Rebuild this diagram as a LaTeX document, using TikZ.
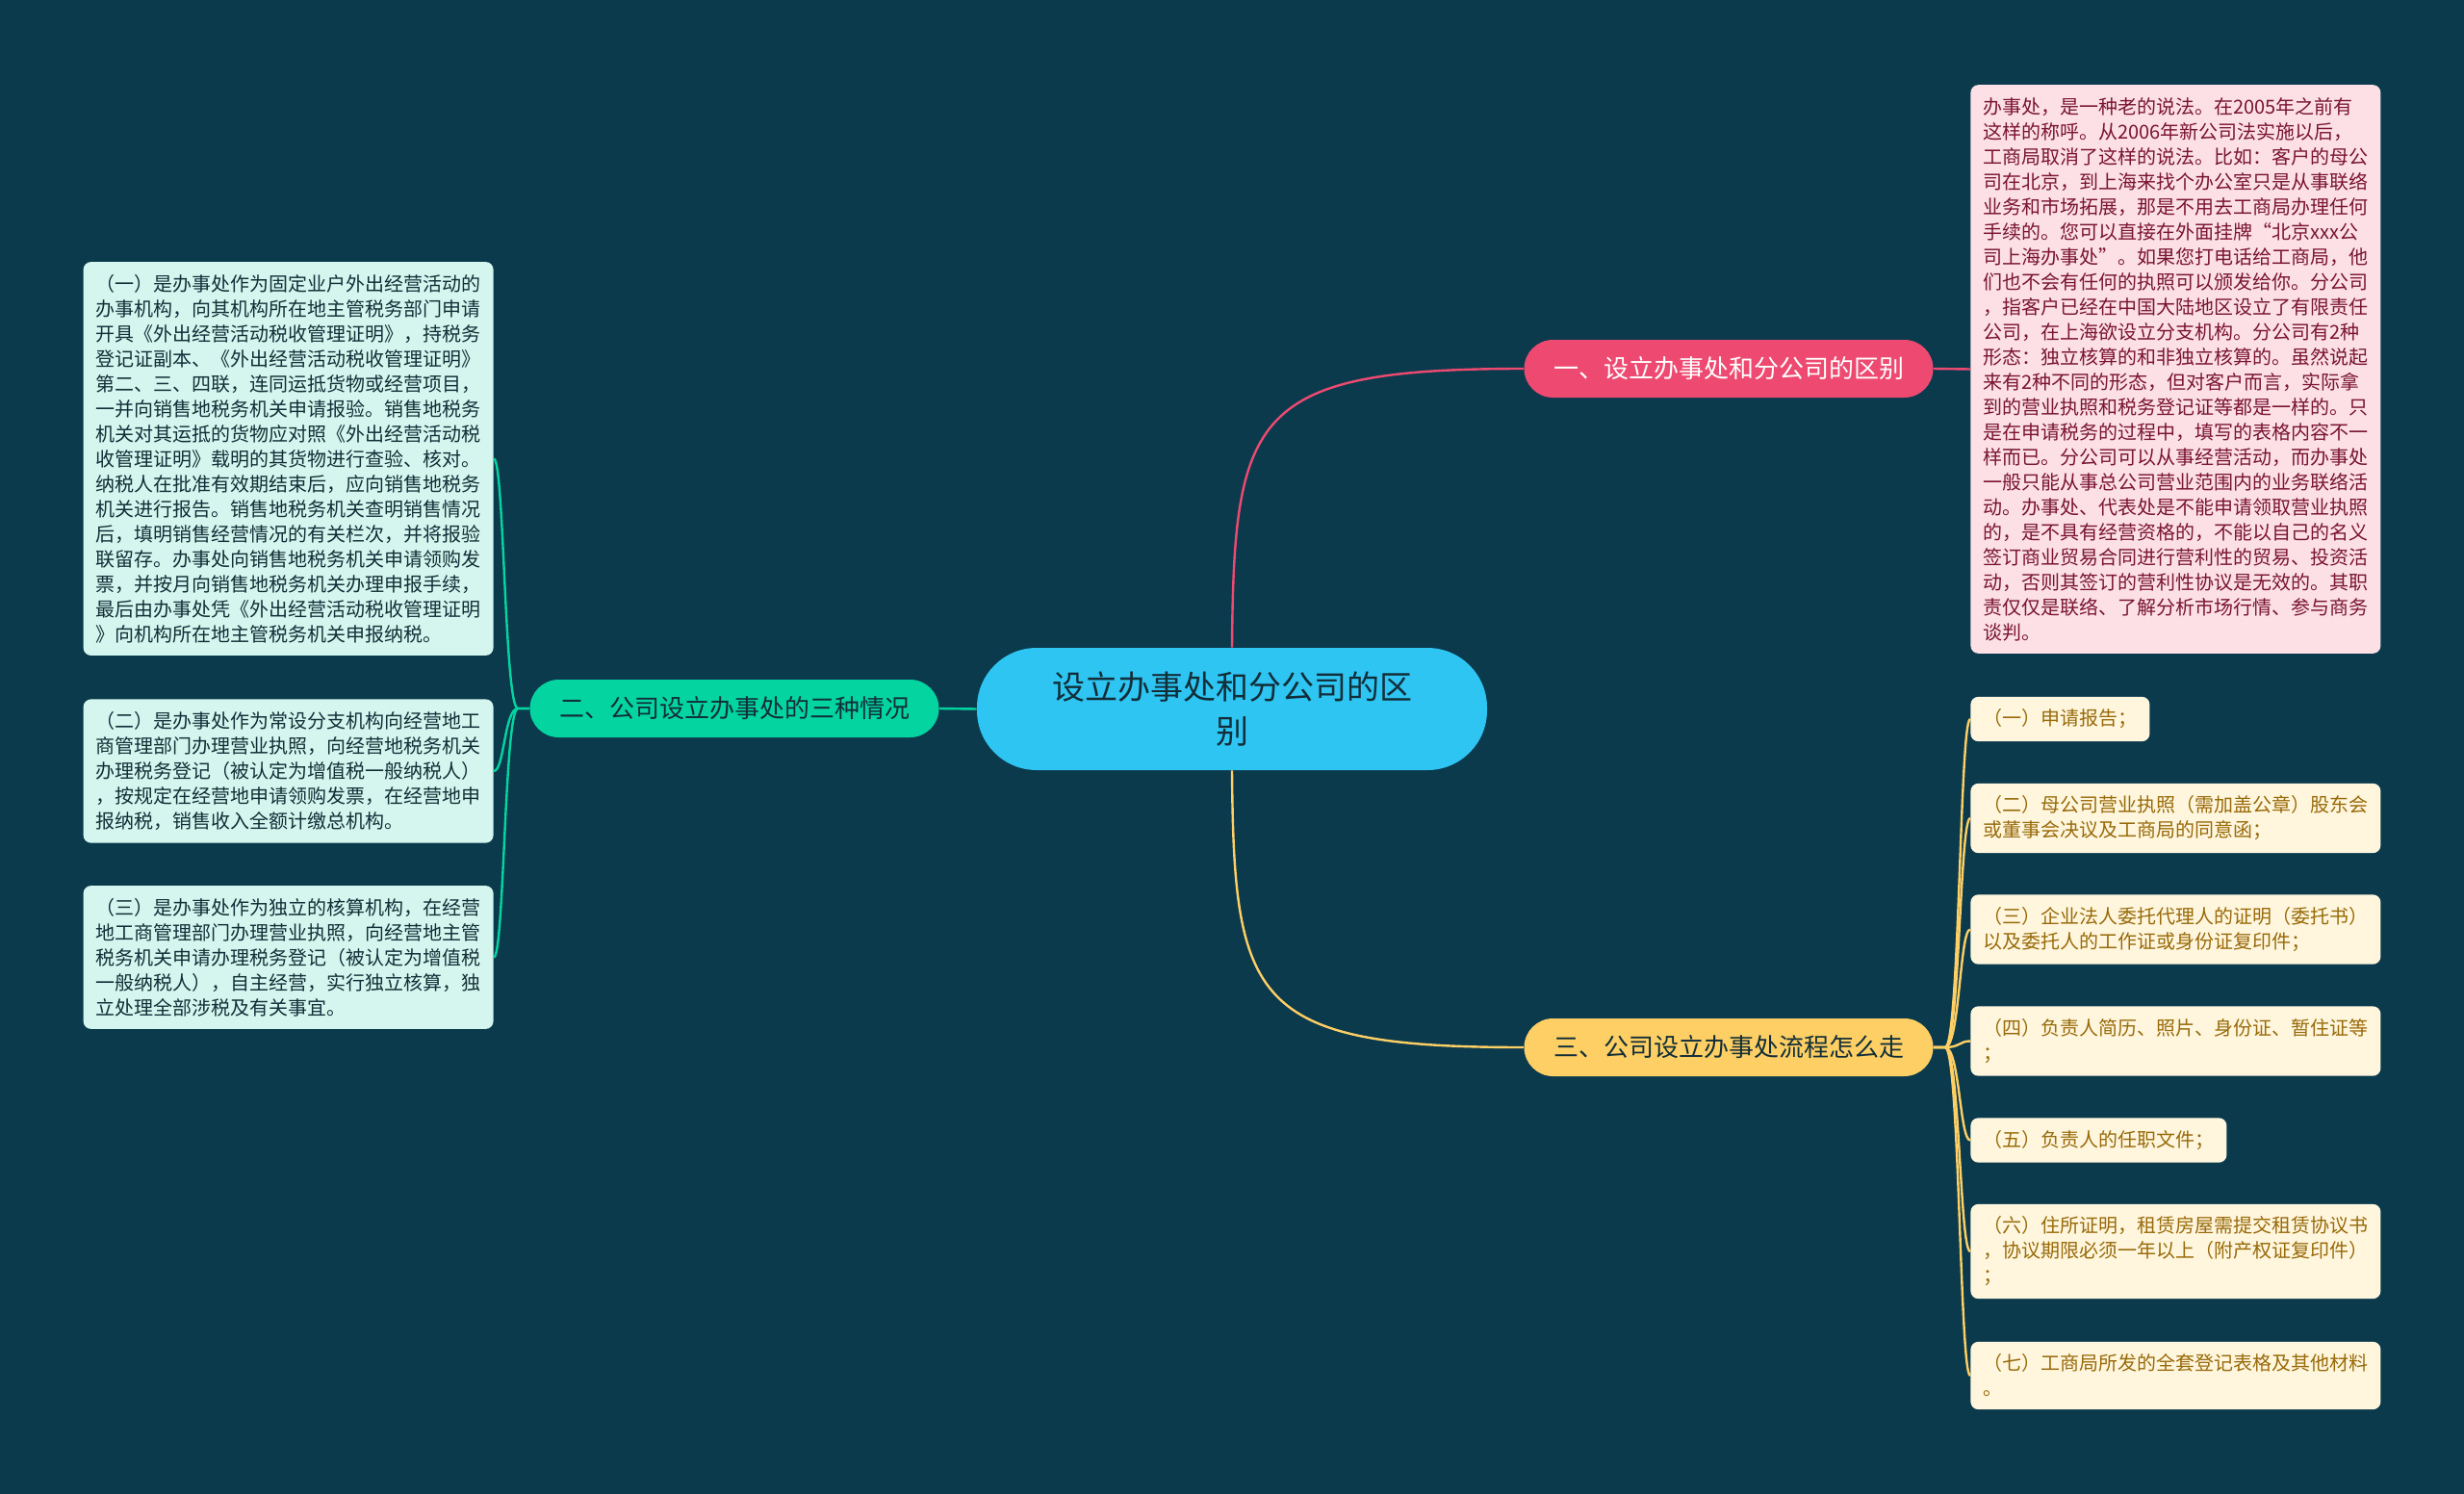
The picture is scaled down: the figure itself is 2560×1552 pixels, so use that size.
\documentclass[tikz,border=0pt]{standalone}
\usepackage{fontspec}
\setmainfont{Noto Sans CJK SC}
\usetikzlibrary{positioning}
\definecolor{bgblue}{RGB}{11,58,77}
\definecolor{rootcyan}{RGB}{46,197,243}
\definecolor{pinkred}{RGB}{238,74,113}
\definecolor{mintgreen}{RGB}{4,212,160}
\definecolor{sunyellow}{RGB}{253,207,100}
\definecolor{mintpale}{RGB}{213,246,238}
\definecolor{pinkpale}{RGB}{252,224,230}
\definecolor{yellowpale}{RGB}{255,246,221}
\definecolor{darktext}{RGB}{18,46,56}
\definecolor{maroontext}{RGB}{122,20,52}
\definecolor{goldtext}{RGB}{152,106,10}

\begin{document}
\begin{tikzpicture}[x=0.5pt,y=-0.5pt,
  rootnode/.style={fill=rootcyan,text=darktext,rounded corners=31pt,minimum width=265pt,minimum height=63.5pt,align=center,font=\fontsize{17}{23}\selectfont},
  branchnode/.style={rounded corners=15pt,minimum width=212.5pt,minimum height=30pt,inner sep=0pt,font=\fontsize{13}{15}\selectfont},
  leafbox/.style={rounded corners=4pt,align=left,inner xsep=6.5pt,inner ysep=6.5pt,font=\fontsize{10}{13}\selectfont},
  link/.style={line width=1.2pt}]
\useasboundingbox (0,0) rectangle (2560,1552);
\fill[bgblue] (0,0) rectangle (2560,1552);

% centre and main branches
\node[rootnode] (root) at (1280,736.5) {设立办事处和分公司的区\\别};
\node[branchnode,fill=pinkred,text=white] (diff) at (1796,383) {一、设立办事处和分公司的区别};
\node[branchnode,fill=mintgreen,text=darktext] (cases) at (763,736) {二、公司设立办事处的三种情况};
\node[branchnode,fill=sunyellow,text=darktext] (steps) at (1796,1088) {三、公司设立办事处流程怎么走};

\draw[link,pinkred] (root.north) .. controls (1282,430) and (1300,383) .. (diff.west);
\draw[link,sunyellow] (root.south) .. controls (1282,1041) and (1300,1088) .. (steps.west);
\draw[link,mintgreen] (root.west) -- (cases.east);

% branch one
\node[leafbox,fill=pinkpale,text=maroontext,anchor=west] (notes) at (2047,383.5) {办事处，是一种老的说法。在2005年之前有\\这样的称呼。从2006年新公司法实施以后，\\工商局取消了这样的说法。比如：客户的母公\\司在北京，到上海来找个办公室只是从事联络\\业务和市场拓展，那是不用去工商局办理任何\\手续的。您可以直接在外面挂牌“北京xxx公\\司上海办事处”。如果您打电话给工商局，他\\们也不会有任何的执照可以颁发给你。分公司\\，指客户已经在中国大陆地区设立了有限责任\\公司，在上海欲设立分支机构。分公司有2种\\形态：独立核算的和非独立核算的。虽然说起\\来有2种不同的形态，但对客户而言，实际拿\\到的营业执照和税务登记证等都是一样的。只\\是在申请税务的过程中，填写的表格内容不一\\样而已。分公司可以从事经营活动，而办事处\\一般只能从事总公司营业范围内的业务联络活\\动。办事处、代表处是不能申请领取营业执照\\的，是不具有经营资格的，不能以自己的名义\\签订商业贸易合同进行营利性的贸易、投资活\\动，否则其签订的营利性协议是无效的。其职\\责仅仅是联络、了解分析市场行情、参与商务\\谈判。};
\draw[link,pinkred] (diff.east) -- (notes.west);

% branch two
\node[leafbox,fill=mintpale,text=darktext,anchor=east] (c1) at (513,476.5) {（一）是办事处作为固定业户外出经营活动的\\办事机构，向其机构所在地主管税务部门申请\\开具《外出经营活动税收管理证明》，持税务\\登记证副本、《外出经营活动税收管理证明》\\第二、三、四联，连同运抵货物或经营项目，\\一并向销售地税务机关申请报验。销售地税务\\机关对其运抵的货物应对照《外出经营活动税\\收管理证明》载明的其货物进行查验、核对。\\纳税人在批准有效期结束后，应向销售地税务\\机关进行报告。销售地税务机关查明销售情况\\后，填明销售经营情况的有关栏次，并将报验\\联留存。办事处向销售地税务机关申请领购发\\票，并按月向销售地税务机关办理申报手续，\\最后由办事处凭《外出经营活动税收管理证明\\》向机构所在地主管税务机关申报纳税。};
\node[leafbox,fill=mintpale,text=darktext,anchor=east] (c2) at (513,801) {（二）是办事处作为常设分支机构向经营地工\\商管理部门办理营业执照，向经营地税务机关\\办理税务登记（被认定为增值税一般纳税人）\\，按规定在经营地申请领购发票，在经营地申\\报纳税，销售收入全额计缴总机构。};
\node[leafbox,fill=mintpale,text=darktext,anchor=east] (c3) at (513,994.5) {（三）是办事处作为独立的核算机构，在经营\\地工商管理部门办理营业执照，向经营地主管\\税务机关申请办理税务登记（被认定为增值税\\一般纳税人），自主经营，实行独立核算，独\\立处理全部涉税及有关事宜。};
\foreach \n/\y in {c1/476.5,c2/801,c3/994.5}
  \draw[link,mintgreen] (cases.west) -- ++(-12,0) .. controls (524,736) and (524,\y) .. (\n.east);

% branch three
\node[leafbox,fill=yellowpale,text=goldtext,anchor=west] (s1) at (2047,747) {（一）申请报告；};
\node[leafbox,fill=yellowpale,text=goldtext,anchor=west] (s2) at (2047,850) {（二）母公司营业执照（需加盖公章）股东会\\或董事会决议及工商局的同意函；};
\node[leafbox,fill=yellowpale,text=goldtext,anchor=west] (s3) at (2047,965.5) {（三）企业法人委托代理人的证明（委托书）\\以及委托人的工作证或身份证复印件；};
\node[leafbox,fill=yellowpale,text=goldtext,anchor=west] (s4) at (2047,1081.5) {（四）负责人简历、照片、身份证、暂住证等\\；};
\node[leafbox,fill=yellowpale,text=goldtext,anchor=west] (s5) at (2047,1184.5) {（五）负责人的任职文件；};
\node[leafbox,fill=yellowpale,text=goldtext,anchor=west] (s6) at (2047,1300) {（六）住所证明，租赁房屋需提交租赁协议书\\，协议期限必须一年以上（附产权证复印件）\\；};
\node[leafbox,fill=yellowpale,text=goldtext,anchor=west] (s7) at (2047,1429) {（七）工商局所发的全套登记表格及其他材料\\。};
\foreach \n/\y in {s1/747,s2/850,s3/965.5,s4/1081.5,s5/1184.5,s6/1300,s7/1429}
  \draw[link,sunyellow] (steps.east) -- ++(12,0) .. controls (2036,1088) and (2036,\y) .. (\n.west);
\end{tikzpicture}
\end{document}
